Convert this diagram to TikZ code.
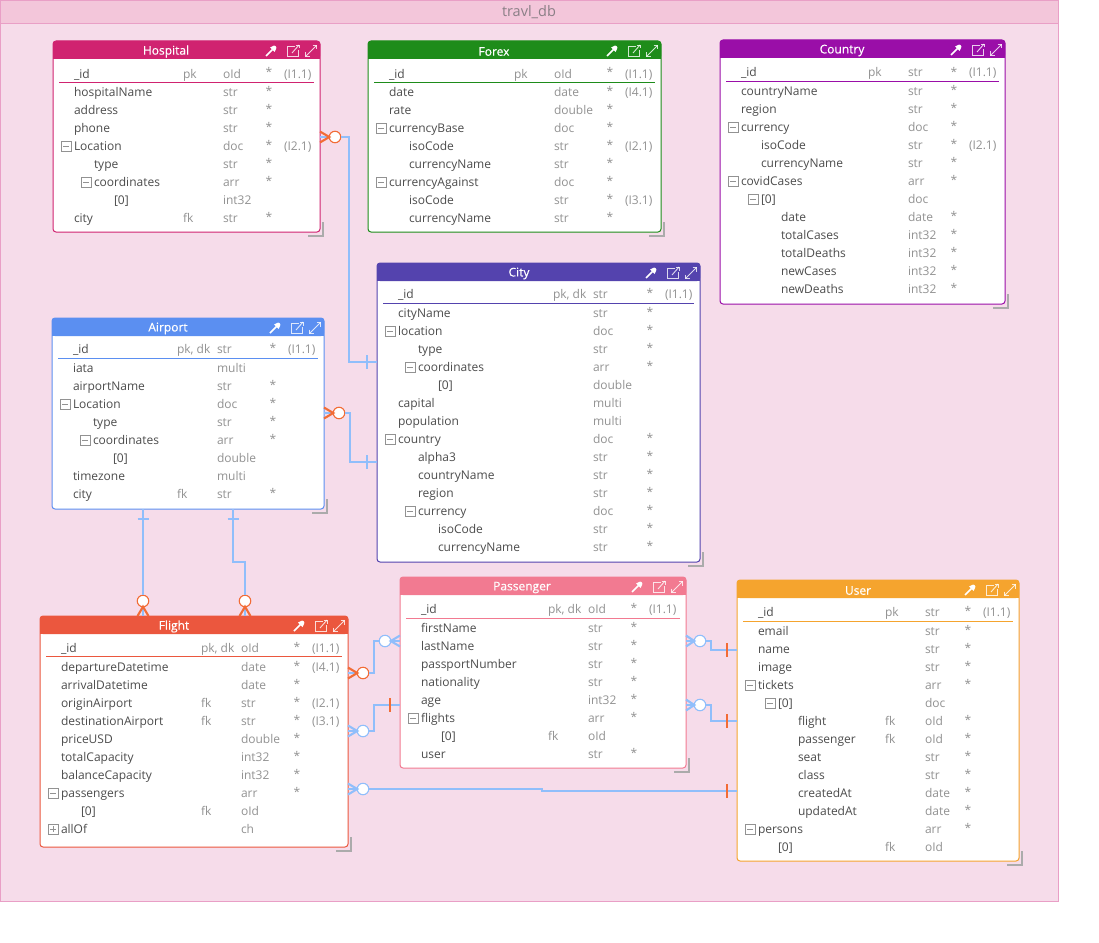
\documentclass[tikz,border=0pt]{standalone}
\usepackage{fontspec}
\setmainfont{Open Sans}
\newfontfamily\titlefont[FakeBold=0.3]{Open Sans}
\usetikzlibrary{calc}
\definecolor{groupfill}{HTML}{F6DCEA}
\definecolor{grouphead}{HTML}{F3C6DA}
\definecolor{groupline}{HTML}{E99FC6}
\definecolor{grouptext}{HTML}{8A7F86}
\definecolor{cHospital}{HTML}{D02370}
\definecolor{cForex}{HTML}{1E8C1A}
\definecolor{cCountry}{HTML}{9A0EA8}
\definecolor{cCity}{HTML}{5443AE}
\definecolor{cAirport}{HTML}{5B8FF1}
\definecolor{cFlight}{HTML}{EB573E}
\definecolor{cPassenger}{HTML}{F27A91}
\definecolor{cUser}{HTML}{F5A42E}
\definecolor{relblue}{HTML}{90BEFB}
\definecolor{relorange}{HTML}{F26C36}
\definecolor{nametext}{HTML}{4C4C4C}
\definecolor{metatext}{HTML}{929292}
\definecolor{cornergray}{HTML}{ABABAB}
\newcounter{cellno}
\newcommand{\cellname}{cell\arabic{cellno}}
\tikzset{
  x=1pt,y=-1pt,
  namecell/.style={anchor=base west,inner sep=0pt,outer sep=0pt,text=nametext,font=\fontsize{12}{14}\selectfont},
  metacell/.style={anchor=base west,inner sep=0pt,outer sep=0pt,text=metatext,font=\fontsize{12}{14}\selectfont},
  starcell/.style={anchor=base,inner sep=0pt,outer sep=0pt,text=metatext,font=\fontsize{12}{14}\selectfont},
  titlecell/.style={inner sep=0pt,outer sep=0pt,text=white,font=\titlefont\fontsize{12}{14}\selectfont},
  sep line/.style={line width=.9pt},
  relline/.style={draw=relblue,line width=2.1pt},
  barmark/.style={line width=2.1pt,line cap=butt},
  prong/.style={line width=2.1pt},
  circ/.style={circle,fill=white,draw=#1,line width=1.1pt,minimum size=11.5pt,inner sep=0pt,outer sep=0pt},
  togglebox/.style={draw=metatext,line width=.8pt,fill=white},
  iconline/.style={draw=white,line width=.9pt,opacity=.8},
}
% column positions
\newcommand{\setcols}[6]{\def\colName{#1}\def\colKey{#2}\def\colType{#3}\def\colStar{#4}\def\colIdx{#5}\def\colLeft{#6}}
% \rw{y}{level}{toggle 0/m/p}{name}{key}{type}{star 0/1}{idx}
\newcommand{\rw}[8]{%
  \pgfmathsetmacro{\rwx}{\colName+20*#2}%
  \pgfmathsetmacro{\rwy}{#1+5}%
  \stepcounter{cellno}\node[namecell] (\cellname) at (\rwx,\rwy) {#4};%
  \if\relax\detokenize{#5}\relax\else\stepcounter{cellno}\node[metacell] (\cellname) at (\colKey,\rwy) {#5};\fi
  \if\relax\detokenize{#6}\relax\else\stepcounter{cellno}\node[metacell] (\cellname) at (\colType,\rwy) {#6};\fi
  \if#71\stepcounter{cellno}\node[starcell] (\cellname) at (\colStar,{#1+4}) {*};\fi
  \if\relax\detokenize{#8}\relax\else\stepcounter{cellno}\node[metacell] (\cellname) at (\colIdx,\rwy) {#8};\fi
  \if#3m\tgl{\rwx}{#1}\fi
  \if#3p\tgl{\rwx}{#1}\draw[metatext,line width=1pt] ({\rwx-8},{#1-2}) -- ({\rwx-8},{#1+4});\fi
}
\newcommand{\tgl}[2]{%
  \draw[togglebox] ({#1-13},{#2-4}) rectangle ({#1-3},{#2+6});
  \draw[metatext,line width=1pt] ({#1-11},{#2+1}) -- ({#1-5},{#2+1});
}
% \tablebox{id}{x1}{y1}{x2}{y2}{color}{titlex}{title}{sep y}
\newcommand{\tablebox}[9]{%
  \pgfmathsetmacro{\bw}{#4-#2}\pgfmathsetmacro{\bh}{#5-#3}%
  \draw[cornergray,line width=1.6pt] ({#4-12},{#5+4}) -- ({#4+3},{#5+4}) -- ({#4+3},{#5-10});
  \node[draw=#6,fill=white,rounded corners=3pt,line width=1pt,inner sep=0pt,outer sep=0pt,
        minimum width=\bw pt,minimum height=\bh pt,anchor=north west] (#1) at (#2,#3) {};
  \fill[#6,rounded corners=3pt] (#2,#3) rectangle (#4,{#3+18});
  \fill[#6] (#2,{#3+9}) rectangle (#4,{#3+18});
  \stepcounter{cellno}\node[titlecell] (\cellname) at (#7,{#3+10.5}) {#8};
  \draw[#6,sep line] ({#2+6},#9) -- ({#4-6},#9);
  \pgfmathsetmacro{\iy}{#3+10}%
  \icons{#4}{\iy}%
}
\newcommand{\icons}[2]{%
  \begin{scope}[shift={({#1-49},#2)}]
    \draw[white,line width=1.5pt] (-5,5) -- (1.5,-1.5);
    \fill[white] (-1,-3.5) -- (2,-5) .. controls (3.5,-6.5) and (6.5,-4) .. (5,-2) -- (3.5,1) -- cycle;
  \end{scope}
  \begin{scope}[shift={({#1-27},#2)}]
    \draw[iconline] (2,-5) -- (-5.5,-5) -- (-5.5,5.5) -- (5,5.5) -- (5,-1);
    \draw[iconline] (-1,2) -- (6,-6);
    \draw[iconline] (2.5,-6) -- (6,-6) -- (6,-2.5);
  \end{scope}
  \begin{scope}[shift={({#1-9},#2)}]
    \draw[iconline] (-5.5,5.5) -- (5.5,-5.5);
    \draw[iconline] (1.5,-5.5) -- (5.5,-5.5) -- (5.5,-1.5);
    \draw[iconline] (-5.5,1.5) -- (-5.5,5.5) -- (-1.5,5.5);
  \end{scope}
}
% crow's foot on a vertical table edge; #1 colour, #2 circle node, #3 circle anchor, #4 table node, #5 table anchor
\newcommand{\crowh}[5]{%
  \draw[relline] (#2.#3) -- (#4.#5 |- #2);
  \draw[#1,prong] ($(#4.#5 |- #2)+(0,-5.5)$) -- (#2.#3) -- ($(#4.#5 |- #2)+(0,5.5)$);
}
\newcommand{\crowv}[5]{%
  \draw[relline] (#2.#3) -- (#4.#5 -| #2);
  \draw[#1,prong] ($(#4.#5 -| #2)+(-5.5,0)$) -- (#2.#3) -- ($(#4.#5 -| #2)+(5.5,0)$);
}
\begin{document}
\begin{tikzpicture}
\useasboundingbox (0,0) rectangle (1099,942);
\fill[white] (0,0) rectangle (1099,942);
% group
\node[draw=groupline,fill=groupfill,line width=1pt,inner sep=0pt,outer sep=0pt,minimum width=1058pt,minimum height=901pt,anchor=north west] (group) at (.5,.5) {};
\node[draw=groupline,fill=grouphead,line width=1pt,inner sep=0pt,outer sep=0pt,minimum width=1058pt,minimum height=23pt,anchor=north west] (grouphead) at (.5,.5) {};
\node[inner sep=0pt,text=grouptext,font=\fontsize{14.5}{16}\selectfont] (grouptitle) at (529,12) {travl\_db};

% Hospital
\tablebox{hospital}{53}{41}{320}{232}{cHospital}{166}{Hospital}{82}
\setcols{74}{183}{223}{269}{284}{53}
\rw{73}{0}{0}{\_id}{pk}{oId}{1}{(I1.1)}
\rw{91}{0}{0}{hospitalName}{}{str}{1}{}
\rw{109}{0}{0}{address}{}{str}{1}{}
\rw{127}{0}{0}{phone}{}{str}{1}{}
\rw{145}{0}{m}{Location}{}{doc}{1}{(I2.1)}
\rw{163}{1}{0}{type}{}{str}{1}{}
\rw{181}{1}{m}{coordinates}{}{arr}{1}{}
\rw{199}{2}{0}{[0]}{}{int32}{0}{}
\rw{217}{0}{0}{city}{fk}{str}{1}{}

% Forex
\tablebox{forex}{368}{41}{661}{232}{cForex}{494}{Forex}{82}
\setcols{389}{514}{554}{610}{625}{368}
\rw{73}{0}{0}{\_id}{pk}{oId}{1}{(I1.1)}
\rw{91}{0}{0}{date}{}{date}{1}{(I4.1)}
\rw{109}{0}{0}{rate}{}{double}{1}{}
\rw{127}{0}{m}{currencyBase}{}{doc}{1}{}
\rw{145}{1}{0}{isoCode}{}{str}{1}{(I2.1)}
\rw{163}{1}{0}{currencyName}{}{str}{1}{}
\rw{181}{0}{m}{currencyAgainst}{}{doc}{1}{}
\rw{199}{1}{0}{isoCode}{}{str}{1}{(I3.1)}
\rw{217}{1}{0}{currencyName}{}{str}{1}{}

% Country
\tablebox{country}{720}{40}{1005}{304}{cCountry}{842}{Country}{81}
\setcols{741}{868}{908}{954}{969}{720}
\rw{72}{0}{0}{\_id}{pk}{str}{1}{(I1.1)}
\rw{90}{0}{0}{countryName}{}{str}{1}{}
\rw{108}{0}{0}{region}{}{str}{1}{}
\rw{126}{0}{m}{currency}{}{doc}{1}{}
\rw{144}{1}{0}{isoCode}{}{str}{1}{(I2.1)}
\rw{162}{1}{0}{currencyName}{}{str}{1}{}
\rw{180}{0}{m}{covidCases}{}{arr}{1}{}
\rw{198}{1}{m}{[0]}{}{doc}{0}{}
\rw{216}{2}{0}{date}{}{date}{1}{}
\rw{234}{2}{0}{totalCases}{}{int32}{1}{}
\rw{252}{2}{0}{totalDeaths}{}{int32}{1}{}
\rw{270}{2}{0}{newCases}{}{int32}{1}{}
\rw{288}{2}{0}{newDeaths}{}{int32}{1}{}

% City
\tablebox{city}{377}{263}{700}{562}{cCity}{519}{City}{303}
\setcols{398}{553}{593}{650}{665}{377}
\rw{293}{0}{0}{\_id}{pk, dk}{str}{1}{(I1.1)}
\rw{312}{0}{0}{cityName}{}{str}{1}{}
\rw{330}{0}{m}{location}{}{doc}{1}{}
\rw{348}{1}{0}{type}{}{str}{1}{}
\rw{366}{1}{m}{coordinates}{}{arr}{1}{}
\rw{384}{2}{0}{[0]}{}{double}{0}{}
\rw{402}{0}{0}{capital}{}{multi}{0}{}
\rw{420}{0}{0}{population}{}{multi}{0}{}
\rw{438}{0}{m}{country}{}{doc}{1}{}
\rw{456}{1}{0}{alpha3}{}{str}{1}{}
\rw{474}{1}{0}{countryName}{}{str}{1}{}
\rw{492}{1}{0}{region}{}{str}{1}{}
\rw{510}{1}{m}{currency}{}{doc}{1}{}
\rw{528}{2}{0}{isoCode}{}{str}{1}{}
\rw{546}{2}{0}{currencyName}{}{str}{1}{}

% Airport
\tablebox{airport}{52}{318}{324}{509}{cAirport}{168}{Airport}{358}
\setcols{73}{177}{217}{273}{288}{52}
\rw{348}{0}{0}{\_id}{pk, dk}{str}{1}{(I1.1)}
\rw{367}{0}{0}{iata}{}{multi}{0}{}
\rw{385}{0}{0}{airportName}{}{str}{1}{}
\rw{403}{0}{m}{Location}{}{doc}{1}{}
\rw{421}{1}{0}{type}{}{str}{1}{}
\rw{439}{1}{m}{coordinates}{}{arr}{1}{}
\rw{457}{2}{0}{[0]}{}{double}{0}{}
\rw{475}{0}{0}{timezone}{}{multi}{0}{}
\rw{493}{0}{0}{city}{fk}{str}{1}{}

% Flight
\tablebox{flight}{40}{616}{348}{847}{cFlight}{174}{Flight}{656}
\setcols{61}{201}{241}{297}{312}{40}
\rw{647}{0}{0}{\_id}{pk, dk}{oId}{1}{(I1.1)}
\rw{666}{0}{0}{departureDatetime}{}{date}{1}{(I4.1)}
\rw{684}{0}{0}{arrivalDatetime}{}{date}{1}{}
\rw{702}{0}{0}{originAirport}{fk}{str}{1}{(I2.1)}
\rw{720}{0}{0}{destinationAirport}{fk}{str}{1}{(I3.1)}
\rw{738}{0}{0}{priceUSD}{}{double}{1}{}
\rw{756}{0}{0}{totalCapacity}{}{int32}{1}{}
\rw{774}{0}{0}{balanceCapacity}{}{int32}{1}{}
\rw{792}{0}{m}{passengers}{}{arr}{1}{}
\rw{810}{1}{0}{[0]}{fk}{oId}{0}{}
\rw{828}{0}{p}{allOf}{}{ch}{0}{}

% Passenger
\tablebox{passenger}{400}{577}{686}{768}{cPassenger}{522}{Passenger}{618}
\setcols{421}{548}{588}{634}{649}{400}
\rw{608}{0}{0}{\_id}{pk, dk}{oId}{1}{(I1.1)}
\rw{627}{0}{0}{firstName}{}{str}{1}{}
\rw{645}{0}{0}{lastName}{}{str}{1}{}
\rw{663}{0}{0}{passportNumber}{}{str}{1}{}
\rw{681}{0}{0}{nationality}{}{str}{1}{}
\rw{699}{0}{0}{age}{}{int32}{1}{}
\rw{717}{0}{m}{flights}{}{arr}{1}{}
\rw{735}{1}{0}{[0]}{fk}{oId}{0}{}
\rw{753}{0}{0}{user}{}{str}{1}{}

% User
\tablebox{user}{737}{580}{1019}{861}{cUser}{858}{User}{621}
\setcols{758}{885}{925}{968}{983}{737}
\rw{611}{0}{0}{\_id}{pk}{str}{1}{(I1.1)}
\rw{630}{0}{0}{email}{}{str}{1}{}
\rw{648}{0}{0}{name}{}{str}{1}{}
\rw{666}{0}{0}{image}{}{str}{1}{}
\rw{684}{0}{m}{tickets}{}{arr}{1}{}
\rw{702}{1}{m}{[0]}{}{doc}{0}{}
\rw{720}{2}{0}{flight}{fk}{oId}{1}{}
\rw{738}{2}{0}{passenger}{fk}{oId}{1}{}
\rw{756}{2}{0}{seat}{}{str}{1}{}
\rw{774}{2}{0}{class}{}{str}{1}{}
\rw{792}{2}{0}{createdAt}{}{date}{1}{}
\rw{810}{2}{0}{updatedAt}{}{date}{1}{}
\rw{828}{0}{m}{persons}{}{arr}{1}{}
\rw{846}{1}{0}{[0]}{fk}{oId}{0}{}

% circles
\node[circ=relorange] (cHospitalCity) at (335,137) {};
\node[circ=relorange] (cAirportCity) at (339,413) {};
\node[circ=relorange] (cFlightA) at (143,601) {};
\node[circ=relorange] (cFlightB) at (245,601) {};
\node[circ=relorange] (cFlightPass) at (363,673) {};
\node[circ=relblue] (cPassFlight) at (385,641) {};
\node[circ=relblue] (cFlightPassB) at (363,731) {};
\node[circ=relblue] (cFlightUser) at (363,789) {};
\node[circ=relblue] (cPassUserA) at (700,641) {};
\node[circ=relblue] (cPassUserB) at (700,705) {};

% ports on the "one" ends
\coordinate (pCityH) at (city.west |- 0,362);
\coordinate (pCityA) at (city.west |- 0,462);
\coordinate (pAirA) at (143,509);
\coordinate (pAirB) at (233,509);
\coordinate (pPassF) at (passenger.west |- 0,705);
\coordinate (pUserF) at (user.west |- 0,791);
\coordinate (pUserA) at (user.west |- 0,650);
\coordinate (pUserB) at (user.west |- 0,721);

% Hospital - City
\crowh{relorange}{cHospitalCity}{west}{hospital}{east}
\draw[relline] (cHospitalCity.east) -- (349,137) -- (349,362) -- (pCityH);
\draw[relblue,barmark] (367,355) -- (367,369);
% Airport - City
\crowh{relorange}{cAirportCity}{west}{airport}{east}
\draw[relline] (cAirportCity.east) -- (350,413) -- (350,462) -- (pCityA);
\draw[relblue,barmark] (367,455) -- (367,469);
% Airport - Flight
\crowv{relorange}{cFlightA}{south}{flight}{north}
\draw[relline] (pAirA) -- (cFlightA.north);
\draw[relblue,barmark] (137.5,519) -- (148.5,519);
\crowv{relorange}{cFlightB}{south}{flight}{north}
\draw[relline] (pAirB) -- (233,562) -- (245,562) -- (cFlightB.north);
\draw[relblue,barmark] (227.5,519) -- (238.5,519);
% Flight - Passenger (many-many)
\crowh{relorange}{cFlightPass}{west}{flight}{east}
\crowh{relblue}{cPassFlight}{east}{passenger}{west}
\draw[relline] (cFlightPass.east) -- (374,673) -- (374,641) -- (cPassFlight.west);
% Flight - Passenger (one)
\crowh{relblue}{cFlightPassB}{west}{flight}{east}
\draw[relline] (cFlightPassB.east) -- (374,731) -- (374,705) -- (pPassF);
\draw[relorange,barmark] (390,698) -- (390,712);
% Flight - User
\crowh{relblue}{cFlightUser}{west}{flight}{east}
\draw[relline] (cFlightUser.east) -- (542,789) -- (542,791) -- (pUserF);
\draw[relorange,barmark] (727,784) -- (727,798);
% Passenger - User
\crowh{relblue}{cPassUserA}{west}{passenger}{east}
\draw[relline] (cPassUserA.east) -- (711,641) -- (711,650) -- (pUserA);
\draw[relorange,barmark] (727,643) -- (727,657);
\crowh{relblue}{cPassUserB}{west}{passenger}{east}
\draw[relline] (cPassUserB.east) -- (711,705) -- (711,721) -- (pUserB);
\draw[relorange,barmark] (727,714) -- (727,728);
\end{tikzpicture}
\end{document}
